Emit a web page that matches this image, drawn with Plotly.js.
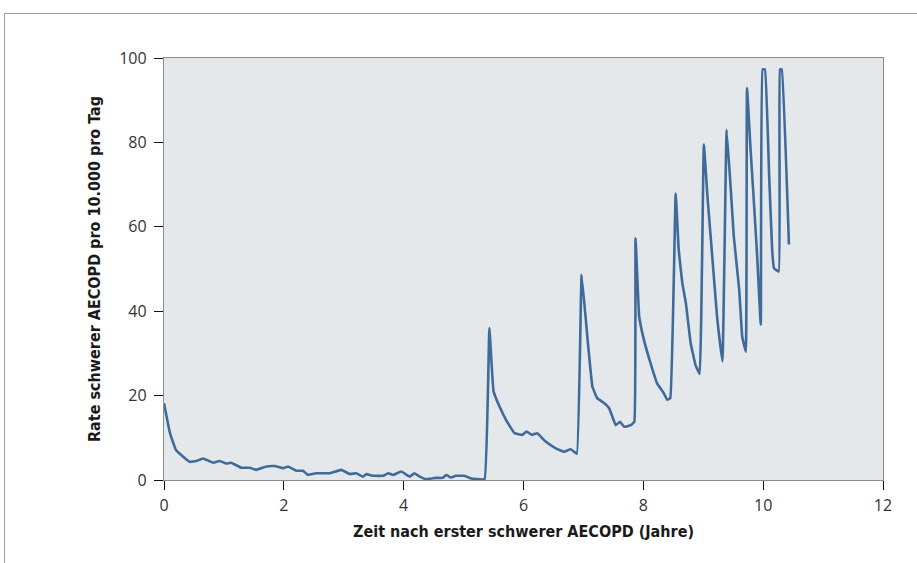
<!DOCTYPE html>
<html>
<head>
<meta charset="utf-8">
<script src="https://cdn.plot.ly/plotly-3.0.1.min.js"></script>
<style>
  html, body { margin: 0; padding: 0; background: #ffffff; }
  #frame { position: absolute; left: 4px; top: 13px; width: 930px; height: 600px;
           border-left: 1.5px solid #a0a0a0; border-top: 1.5px solid #a0a0a0; pointer-events: none; }
  #chart { position: absolute; left: 0; top: 0; width: 917px; height: 563px; }
</style>
</head>
<body>
<div id="chart"></div>
<div id="frame"></div>
<script>
// Zeit nach erster schwerer AECOPD (Jahre)
var years = [
  0.00, 0.10, 0.20, 0.32, 0.43, 0.54, 0.65, 0.82, 0.93, 1.04, 1.12, 1.29, 1.43, 1.54, 1.71, 1.85, 1.99, 2.07,
  2.21, 2.32, 2.40, 2.54, 2.76, 2.96, 3.10, 3.21, 3.32, 3.38, 3.49, 3.66, 3.74, 3.82, 3.96, 4.10, 4.18, 4.27,
  4.37, 4.54, 4.65, 4.71, 4.79, 4.87, 5.01, 5.10, 5.21, 5.35,
  5.43, 5.50, 5.60, 5.71, 5.85, 5.98, 6.05, 6.14, 6.23, 6.37, 6.54, 6.68, 6.79, 6.89,
  6.97, 7.07, 7.15, 7.23, 7.35, 7.43, 7.54, 7.61, 7.68, 7.79, 7.85,
  7.87, 7.93, 8.01, 8.12, 8.23, 8.34, 8.40, 8.45,
  8.54, 8.59, 8.65, 8.71, 8.79, 8.87, 8.94,
  9.01, 9.07, 9.15, 9.23, 9.32,
  9.39, 9.46, 9.51, 9.60, 9.65, 9.71,
  9.73, 9.79, 9.85, 9.90, 9.96,
  9.99, 10.03, 10.10, 10.15, 10.18, 10.26,
  10.28, 10.31, 10.43
];
// Rate schwerer AECOPD pro 10.000 pro Tag
var rate = [
  18.2, 11.1, 7.1, 5.5, 4.3, 4.5, 5.1, 4.1, 4.5, 3.9, 4.1, 2.9, 2.9, 2.4, 3.2, 3.3, 2.8, 3.2,
  2.2, 2.2, 1.2, 1.6, 1.6, 2.4, 1.4, 1.6, 0.8, 1.4, 1.0, 1.0, 1.6, 1.2, 2.0, 0.8, 1.6, 0.8,
  0.2, 0.5, 0.5, 1.2, 0.6, 1.0, 1.0, 0.5, 0.2, 0.2,
  36.0, 21.0, 17.4, 14.2, 11.1, 10.7, 11.5, 10.7, 11.1, 9.1, 7.5, 6.7, 7.3, 6.2,
  48.6, 33.2, 22.1, 19.4, 18.2, 17.0, 13.0, 13.8, 12.6, 13.0, 13.8,
  57.3, 38.8, 33.2, 27.7, 22.9, 20.6, 19.0, 19.4,
  67.9, 54.6, 46.7, 41.9, 32.4, 27.3, 25.1,
  79.5, 67.2, 53.0, 38.8, 28.1,
  83.0, 68.8, 57.7, 45.1, 34.0, 30.4,
  92.9, 78.3, 64.8, 53.0, 36.8,
  97.3, 97.3, 72.0, 54.6, 50.2, 49.4,
  97.3, 97.3, 55.8
];
var xTicks = [0, 2, 4, 6, 8, 10, 12];
var yTicks = [0, 20, 40, 60, 80, 100];

var tickFont = {family: "Open Sans, sans-serif", size: 16, color: "#333333"};
var titleFont = {family: "DejaVu Sans Condensed, sans-serif", size: 16, color: "#1a1a1a", weight: "bold"};

var trace = {
  x: years, y: rate, type: "scatter", mode: "lines",
  line: {color: "#3f6b9b", width: 2.6, shape: "spline", smoothing: 0.25},
  hoverinfo: "skip"
};

var layout = {
  width: 917, height: 563,
  margin: {l: 164, r: 34, t: 58, b: 83},
  paper_bgcolor: "rgba(0,0,0,0)",
  plot_bgcolor: "#e5e8eb",
  showlegend: false,
  xaxis: {
    range: [0, 12], tickvals: xTicks, ticktext: xTicks.map(String),
    showgrid: false, zeroline: false,
    showline: true, linecolor: "#8c8c8c", linewidth: 1.2, mirror: true,
    ticks: "outside", ticklen: 9, tickwidth: 1, tickcolor: "#111111",
    ticklabelstandoff: 2,
    tickfont: tickFont,
    title: {text: "<b>Zeit nach erster schwerer AECOPD (Jahre)</b>", font: titleFont, standoff: 10}
  },
  yaxis: {
    range: [0, 100], tickvals: yTicks, ticktext: yTicks.map(String),
    showgrid: false, zeroline: false,
    showline: true, linecolor: "#8c8c8c", linewidth: 1.2, mirror: true,
    ticks: "outside", ticklen: 9, tickwidth: 1, tickcolor: "#111111",
    ticklabelstandoff: 4,
    tickfont: tickFont,
    title: {text: "<b>Rate schwerer AECOPD pro 10.000 pro Tag</b>", font: titleFont, standoff: 14}
  }
};

Plotly.newPlot("chart", [trace], layout, {staticPlot: true, displayModeBar: false});
</script>
</body>
</html>
